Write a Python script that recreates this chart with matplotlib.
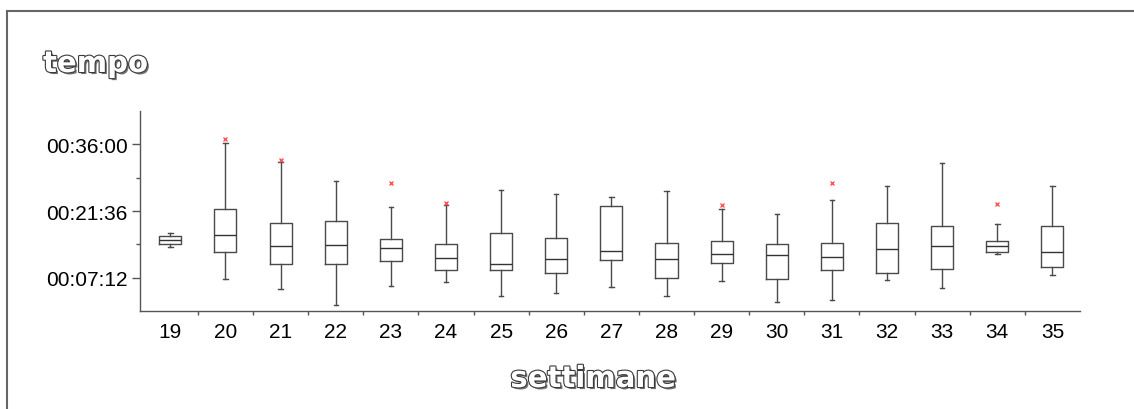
"""
plot.py

Box plot of times per week (tempo / settimane)
"""

import numpy as np
import matplotlib
matplotlib.use("Agg")
from matplotlib import pyplot
import matplotlib.patheffects as pe
from matplotlib.ticker import FixedLocator, FuncFormatter

# week numbers and box statistics (seconds)
weeks = [19, 20, 21, 22, 23, 24, 25, 26, 27, 28, 29, 30, 31, 32, 33, 34, 35]
whislo = [832, 415, 286, 80, 329, 377, 191, 230, 316, 191, 389, 118, 144, 406, 294, 742, 471]
q1 = [874, 759, 604, 609, 647, 526, 535, 487, 660, 428, 617, 410, 526, 487, 539, 763, 565]
med = [926, 991, 845, 858, 815, 686, 604, 668, 776, 677, 737, 725, 699, 810, 836, 845, 763]
q3 = [978, 1326, 1137, 1163, 931, 871, 1013, 944, 1365, 887, 901, 867, 887, 1142, 1103, 913, 1099]
whishi = [1012, 2174, 1937, 1679, 1352, 1370, 1567, 1519, 1473, 1550, 1326, 1262, 1438, 1619, 1912, 1125, 1623]
outliers = [[], [2234], [1963], [], [1653], [1395], [], [], [], [], [1374], [], [1661], [], [], [1383], []]

y_major = [432, 1296, 2160]
y_minor = [864, 1728]


def hms(v, pos=None):
    v = int(round(v))
    return "%02d:%02d:%02d" % (v // 3600, (v % 3600) // 60, v % 60)


pyplot.rcParams['font.family'] = ['Liberation Sans', 'DejaVu Sans']

fig = pyplot.figure(figsize=(11.34, 4.10), dpi=100)
ax = fig.add_axes([140 / 1134, 1 - 312 / 410, 940 / 1134, 200 / 410])

stats = []
for i in range(len(weeks)):
    stats.append(dict(whislo=whislo[i], q1=q1[i], med=med[i], q3=q3[i],
                      whishi=whishi[i], fliers=outliers[i]))

pos = np.arange(len(weeks))
ax.bxp(stats, positions=pos, widths=0.4, capwidths=0.08,
       boxprops=dict(color='#4a4a4a', lw=1.0),
       medianprops=dict(color='#333333', lw=1.0),
       whiskerprops=dict(color='#4a4a4a', lw=1.0),
       capprops=dict(color='#4a4a4a', lw=1.0),
       flierprops=dict(marker='x', markersize=3.5, markeredgecolor='#ff5555',
                       markeredgewidth=1.0, linestyle='none'))

ax.set_xlim(-0.55, len(weeks) - 0.5)
ax.set_ylim(0, 2592)

for s in ['top', 'right']:
    ax.spines[s].set_visible(False)
for s in ['left', 'bottom']:
    ax.spines[s].set_color('#555555')
    ax.spines[s].set_linewidth(1.0)

ax.yaxis.set_major_locator(FixedLocator(y_major))
ax.yaxis.set_minor_locator(FixedLocator(y_minor))
ax.yaxis.set_major_formatter(FuncFormatter(hms))
ax.tick_params(axis='y', which='major', direction='out', length=6, width=1,
               color='#555555', labelsize=15, pad=3)
ax.tick_params(axis='y', which='minor', direction='out', length=3, width=1,
               color='#555555')

ax.set_xticks(pos)
ax.set_xticklabels([str(w) for w in weeks])
ax.xaxis.set_minor_locator(FixedLocator(pos[:-1] + 0.5))
ax.tick_params(axis='x', which='major', length=0, labelsize=15, pad=8)
ax.tick_params(axis='x', which='minor', direction='out', length=3, width=1,
               color='#555555')

# outlined titles with shadow
fx = [pe.SimplePatchShadow(offset=(1.5, -1.5), shadow_rgbFace='#666666', alpha=0.9),
      pe.Stroke(linewidth=1.6, foreground='#3a3a3a'), pe.Normal()]
fig.text(43 / 1134, 1 - 73 / 410, "tempo", fontsize=21, fontweight='bold',
         family='DejaVu Sans', color='white', path_effects=fx)
fig.text(593 / 1134, 1 - 388 / 410, "settimane", fontsize=21, fontweight='bold',
         family='DejaVu Sans', color='white', ha='center', path_effects=fx)

# frame lines (top and left) around the figure
fig.add_artist(matplotlib.lines.Line2D([7 / 1134, 1], [1 - 12 / 410, 1 - 12 / 410],
                                       color='#666666', lw=1.5))
fig.add_artist(matplotlib.lines.Line2D([7 / 1134, 7 / 1134], [0, 1 - 12 / 410],
                                       color='#666666', lw=1.5))

fig.savefig("out.png", dpi=100)
